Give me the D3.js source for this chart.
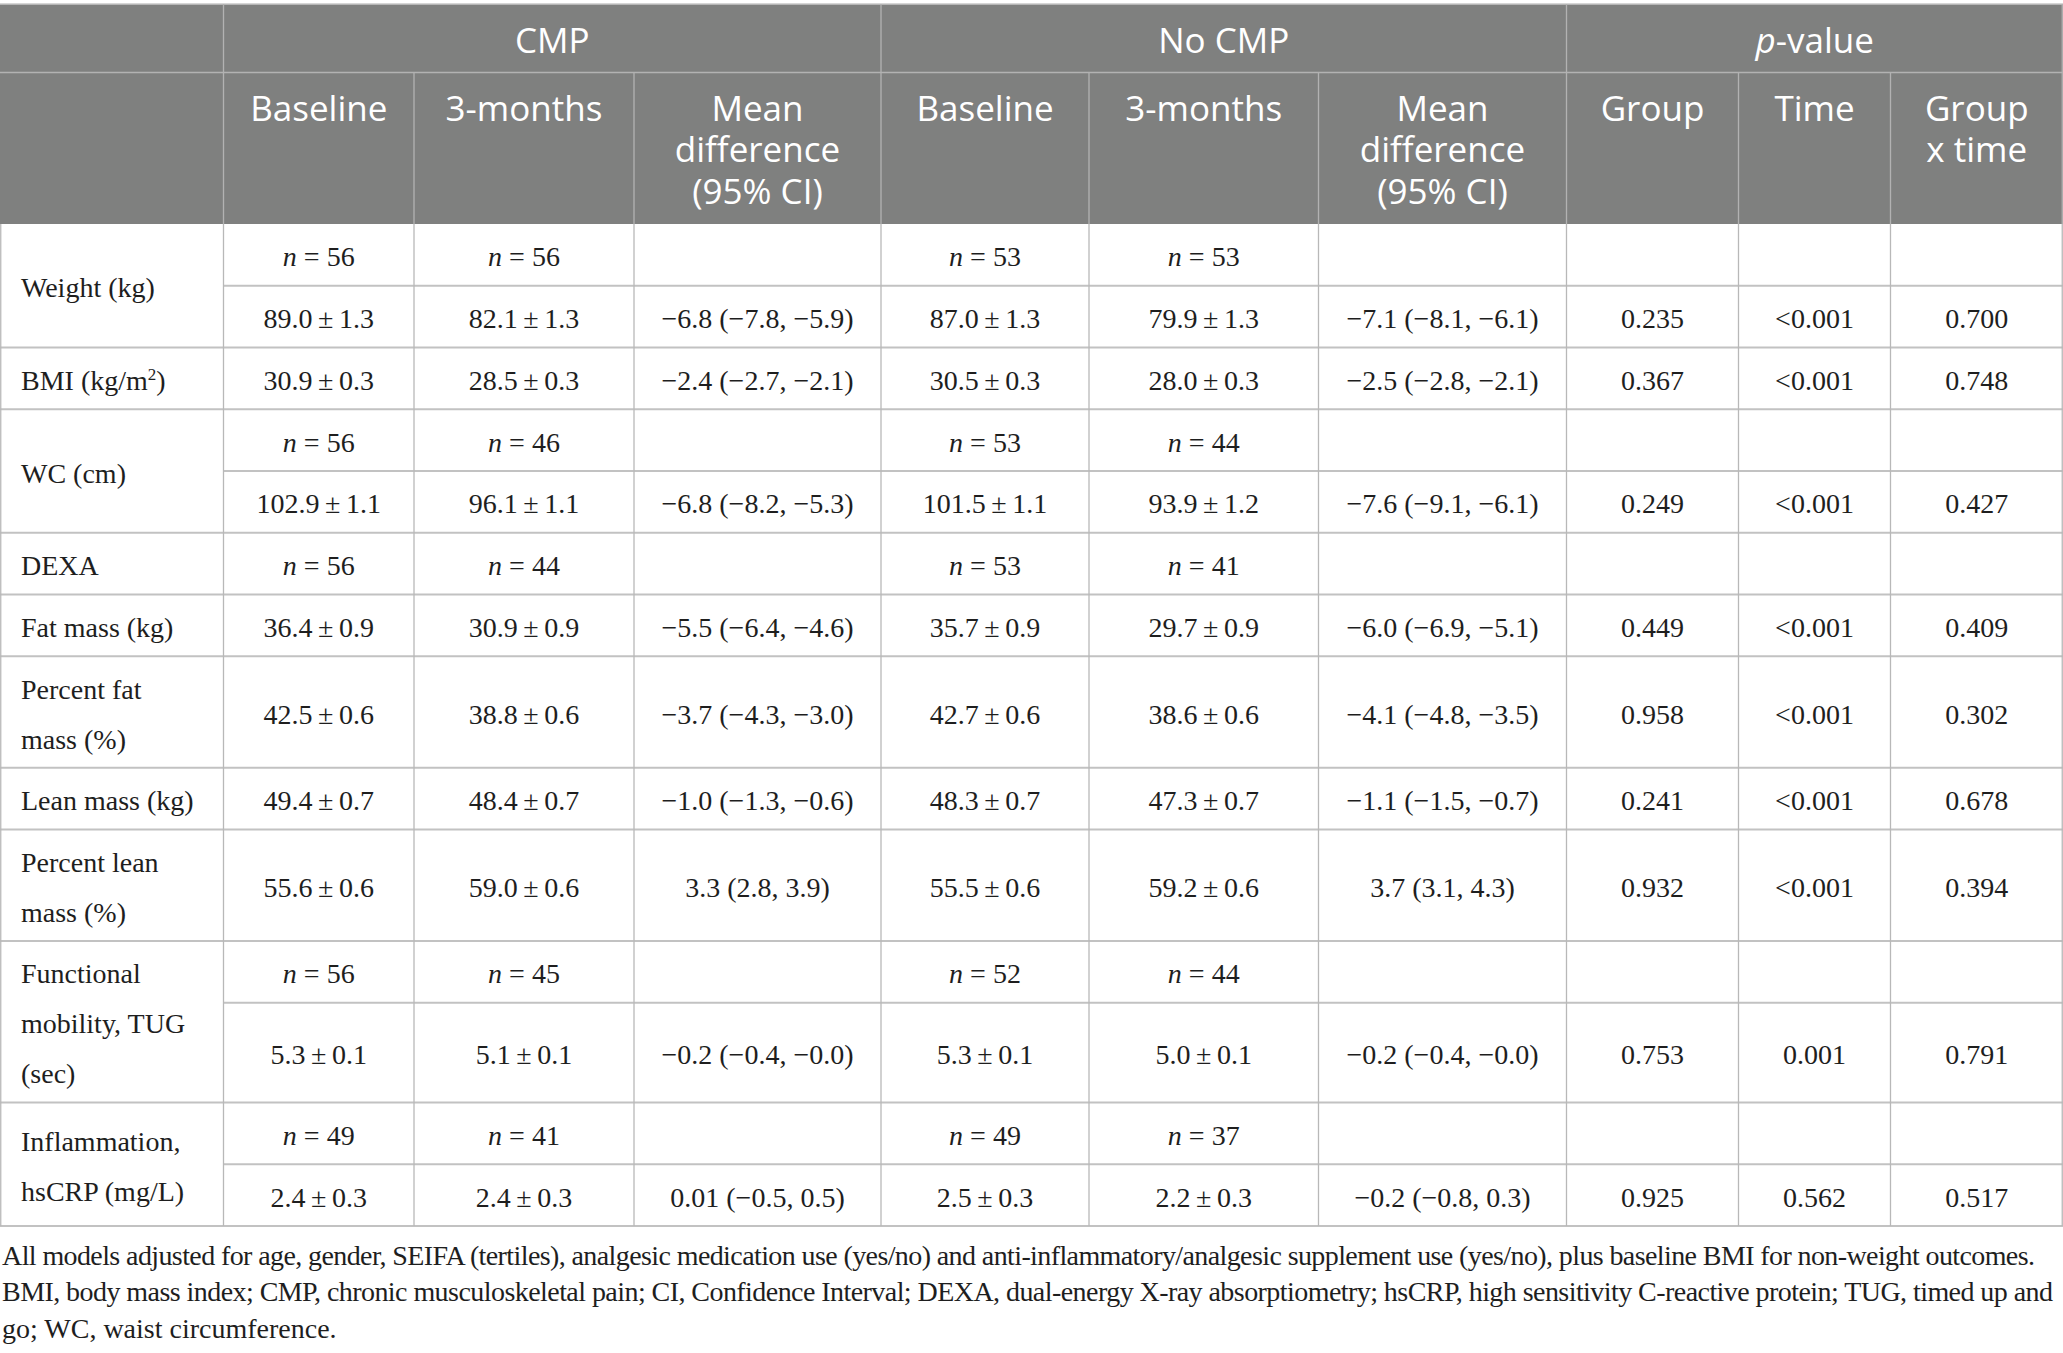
<!DOCTYPE html>
<html>
<head>
<meta charset="utf-8">
<script src="https://cdn.jsdelivr.net/npm/d3@7"></script>
<style>
  html, body { margin: 0; padding: 0; background: #fff; }
  svg { display: block; }
</style>
</head>
<body>
<svg id="tbl" width="2063" height="1353"></svg>
<script>
// ---- table data ----
var stubLabels = [
  ["Weight (kg)"],
  ["BMI (kg/m|2|)"],
  ["WC (cm)"],
  ["DEXA"],
  ["Fat mass (kg)"],
  ["Percent fat", "mass (%)"],
  ["Lean mass (kg)"],
  ["Percent lean", "mass (%)"],
  ["Functional", "mobility, TUG", "(sec)"],
  ["Inflammation,", "hsCRP (mg/L)"]
];

// sample sizes (null = no n row)
var nCmpBase = [56, null, 56, 56, null, null, null, null, 56, 49];
var nCmp3m   = [56, null, 46, 44, null, null, null, null, 45, 41];
var nNoBase  = [53, null, 53, 53, null, null, null, null, 52, 49];
var nNo3m    = [53, null, 44, 41, null, null, null, null, 44, 37];

// mean ± SE
var cmpBaseMean = [89.0, 30.9, 102.9, null, 36.4, 42.5, 49.4, 55.6, 5.3, 2.4];
var cmpBaseSE   = [1.3, 0.3, 1.1, null, 0.9, 0.6, 0.7, 0.6, 0.1, 0.3];
var cmp3mMean   = [82.1, 28.5, 96.1, null, 30.9, 38.8, 48.4, 59.0, 5.1, 2.4];
var cmp3mSE     = [1.3, 0.3, 1.1, null, 0.9, 0.6, 0.7, 0.6, 0.1, 0.3];
var noBaseMean  = [87.0, 30.5, 101.5, null, 35.7, 42.7, 48.3, 55.5, 5.3, 2.5];
var noBaseSE    = [1.3, 0.3, 1.1, null, 0.9, 0.6, 0.7, 0.6, 0.1, 0.3];
var no3mMean    = [79.9, 28.0, 93.9, null, 29.7, 38.6, 47.3, 59.2, 5.0, 2.2];
var no3mSE      = [1.3, 0.3, 1.2, null, 0.9, 0.6, 0.7, 0.6, 0.1, 0.3];

// mean difference (95% CI)
var cmpDiff = ["\u22126.8 (\u22127.8, \u22125.9)", "\u22122.4 (\u22122.7, \u22122.1)", "\u22126.8 (\u22128.2, \u22125.3)", null,
               "\u22125.5 (\u22126.4, \u22124.6)", "\u22123.7 (\u22124.3, \u22123.0)", "\u22121.0 (\u22121.3, \u22120.6)",
               "3.3 (2.8, 3.9)", "\u22120.2 (\u22120.4, \u22120.0)", "0.01 (\u22120.5, 0.5)"];
var noDiff  = ["\u22127.1 (\u22128.1, \u22126.1)", "\u22122.5 (\u22122.8, \u22122.1)", "\u22127.6 (\u22129.1, \u22126.1)", null,
               "\u22126.0 (\u22126.9, \u22125.1)", "\u22124.1 (\u22124.8, \u22123.5)", "\u22121.1 (\u22121.5, \u22120.7)",
               "3.7 (3.1, 4.3)", "\u22120.2 (\u22120.4, \u22120.0)", "\u22120.2 (\u22120.8, 0.3)"];

// p-values
var pGroup = ["0.235", "0.367", "0.249", null, "0.449", "0.958", "0.241", "0.932", "0.753", "0.925"];
var pTime  = ["<0.001", "<0.001", "<0.001", null, "<0.001", "<0.001", "<0.001", "<0.001", "0.001", "0.562"];
var pInter = ["0.700", "0.748", "0.427", null, "0.409", "0.302", "0.678", "0.394", "0.791", "0.517"];

var groupHeads = ["", "CMP", "No CMP", "|p|-value"];
var colHeads = [["Baseline"], ["3-months"], ["Mean", "difference", "(95% CI)"],
                ["Baseline"], ["3-months"], ["Mean", "difference", "(95% CI)"],
                ["Group"], ["Time"], ["Group", "x time"]];

var footnotes = [
  "All models adjusted for age, gender, SEIFA (tertiles), analgesic medication use (yes/no) and anti-inflammatory/analgesic supplement use (yes/no), plus baseline BMI for non-weight outcomes.",
  "BMI, body mass index; CMP, chronic musculoskeletal pain; CI, Confidence Interval; DEXA, dual-energy X-ray absorptiometry; hsCRP, high sensitivity C-reactive protein; TUG, timed up and",
  "go; WC, waist circumference."
];

// ---- layout ----
var W = 2063;
var colEdges = [0, 223.5, 414, 634, 881, 1089, 1318.5, 1566.5, 1738.5, 1890.5, 2063];
var groupSpans = [[0, 1], [1, 4], [4, 7], [7, 10]];
var headTop = 4, headMid = 72.5, headBottom = 224;
var subRowH = 61.75, stubLineH = 50, stubPad = 11.5;
var headFill = "#7f807f", headLine = "#b2b2b2", gridH = "#c2c2c2", gridV = "#b8b8b8";
var textCol = "#1e1e1e";
var serif = "'Liberation Serif', 'Times New Roman', serif";
var sans = "'Open Sans', 'Noto Sans', sans-serif";

var svg = d3.select("#tbl");
svg.append("rect").attr("width", W).attr("height", 1353).attr("fill", "#fff");

function pm(m, s) { return m.toFixed(1) + "\u2009\u00b1\u2009" + s.toFixed(1); }
function nTxt(v) { return v == null ? null : [{t: "n", it: true}, {t: " = " + v}]; }
function plain(t) { return t == null ? null : [{t: t}]; }
// "a|b|c" -> alternating normal / special parts
function splitParts(str, special) {
  return str.split("|").map(function(t, i) { var o = {t: t}; if (i % 2) o[special] = true; return o; });
}

// ---- build body rows ----
var cells = [], hLines = [], stubTexts = [];
var y = headBottom;
stubLabels.forEach(function(lab, i) {
  var hasN = nCmpBase[i] != null, hasV = cmpBaseMean[i] != null;
  var nSub = (hasN ? 1 : 0) + (hasV ? 1 : 0);
  var blockH = Math.max(nSub * subRowH, lab.length * stubLineH + stubPad);
  var subs = [];
  if (hasN && hasV) {
    subs.push({y0: y, y1: y + subRowH, kind: "n"});
    subs.push({y0: y + subRowH, y1: y + blockH, kind: "v"});
  } else {
    subs.push({y0: y, y1: y + blockH, kind: hasN ? "n" : "v"});
  }
  subs.forEach(function(s, k) {
    var row;
    if (s.kind === "n") {
      row = [nTxt(nCmpBase[i]), nTxt(nCmp3m[i]), null, nTxt(nNoBase[i]), nTxt(nNo3m[i]), null, null, null, null];
    } else {
      row = [plain(pm(cmpBaseMean[i], cmpBaseSE[i])), plain(pm(cmp3mMean[i], cmp3mSE[i])), plain(cmpDiff[i]),
             plain(pm(noBaseMean[i], noBaseSE[i])), plain(pm(no3mMean[i], no3mSE[i])), plain(noDiff[i]),
             plain(pGroup[i]), plain(pTime[i]), plain(pInter[i])];
    }
    row.forEach(function(parts, j) {
      if (!parts) return;
      cells.push({x: (colEdges[j + 1] + colEdges[j + 2]) / 2, y: (s.y0 + s.y1) / 2, parts: parts});
    });
    if (k > 0) hLines.push({x0: colEdges[1], x1: W, y: s.y0});
  });
  var cy = y + blockH / 2;
  lab.forEach(function(line, k) {
    stubTexts.push({x: 21, y: cy + (k - (lab.length - 1) / 2) * stubLineH, parts: splitParts(line, "sup")});
  });
  y += blockH;
  hLines.push({x0: 0, x1: W, y: y});
});
var bodyBottom = y;

// ---- header ----
var head = svg.append("g");
head.append("rect").attr("x", 0).attr("y", headTop).attr("width", W).attr("height", headBottom - headTop).attr("fill", headFill);
head.append("line").attr("x1", 0).attr("x2", W).attr("y1", headTop).attr("y2", headTop)
  .attr("stroke", "#c8c8c8").attr("stroke-width", 1.5);
head.append("line").attr("x1", 0).attr("x2", W).attr("y1", headMid).attr("y2", headMid)
  .attr("stroke", headLine).attr("stroke-width", 1.5);

var headV = [];
colEdges.forEach(function(x, j) {
  if (j === 0 || j === colEdges.length - 1) return;
  var full = groupSpans.some(function(g) { return g[0] === j; });
  headV.push({x: x, y0: full ? headTop : headMid, y1: headBottom});
});
headV.push({x: W - 0.75, y0: headTop, y1: headBottom});
head.selectAll("line.hv").data(headV).join("line").attr("class", "hv")
  .attr("x1", function(d) { return d.x; }).attr("x2", function(d) { return d.x; })
  .attr("y1", function(d) { return d.y0; }).attr("y2", function(d) { return d.y1; })
  .attr("stroke", headLine).attr("stroke-width", 1.3);

function writeParts(sel) {
  sel.each(function(d) {
    var t = d3.select(this);
    d.parts.forEach(function(p, k) {
      var ts = t.append("tspan").text(p.t);
      if (p.it) ts.style("font-style", "italic");
      if (p.sup) ts.attr("dy", -10).style("font-size", "17px");
      else if (k > 0 && d.parts[k - 1].sup) ts.attr("dy", 10);
    });
  });
}

var gh = groupSpans.map(function(g, i) {
  return {x: (colEdges[g[0]] + colEdges[g[1]]) / 2, y: 52.5, parts: splitParts(groupHeads[i], "it")};
}).filter(function(d) { return d.parts[0].t || d.parts.length > 1; });
head.selectAll("text.gh").data(gh).join("text").attr("class", "gh")
  .attr("x", function(d) { return d.x; }).attr("y", function(d) { return d.y; })
  .attr("text-anchor", "middle").attr("fill", "#fff")
  .style("font-family", sans).style("font-size", "35px")
  .call(writeParts);

var ch = [];
colHeads.forEach(function(lines, j) {
  lines.forEach(function(line, k) {
    ch.push({x: (colEdges[j + 1] + colEdges[j + 2]) / 2, y: 120.7 + k * 41.7, t: line});
  });
});
head.selectAll("text.ch").data(ch).join("text").attr("class", "ch")
  .attr("x", function(d) { return d.x; }).attr("y", function(d) { return d.y; })
  .attr("text-anchor", "middle").attr("fill", "#fff")
  .style("font-family", sans).style("font-size", "35px")
  .text(function(d) { return d.t; });

// ---- body grid ----
var grid = svg.append("g");
grid.selectAll("line.h").data(hLines).join("line").attr("class", "h")
  .attr("x1", function(d) { return d.x0; }).attr("x2", function(d) { return d.x1; })
  .attr("y1", function(d) { return d.y; }).attr("y2", function(d) { return d.y; })
  .attr("stroke", gridH).attr("stroke-width", 2.2);
var bodyV = colEdges.slice(1, -1).concat([0.75, W - 0.75]);
grid.selectAll("line.v").data(bodyV).join("line").attr("class", "v")
  .attr("x1", function(d) { return d; }).attr("x2", function(d) { return d; })
  .attr("y1", headBottom).attr("y2", bodyBottom)
  .attr("stroke", gridV).attr("stroke-width", 1.3);

// ---- body text ----
var body = svg.append("g").style("font-family", serif).style("font-size", "28px").attr("fill", textCol);
body.selectAll("text.cell").data(cells).join("text").attr("class", "cell")
  .attr("x", function(d) { return d.x; }).attr("y", function(d) { return d.y + 11.5; })
  .attr("text-anchor", "middle")
  .call(writeParts);
body.selectAll("text.stub").data(stubTexts).join("text").attr("class", "stub")
  .attr("x", function(d) { return d.x; }).attr("y", function(d) { return d.y + 11.5; })
  .call(writeParts);

// ---- footnotes ----
var fnWidths = [2033, 2051, null];
var fn = svg.append("g").style("font-family", serif).style("font-size", "28px").attr("fill", textCol);
fn.selectAll("text").data(footnotes).join("text")
  .attr("x", 2).attr("y", function(d, i) { return 1265 + i * 36.3; })
  .text(function(d) { return d; })
  .each(function(d, i) {
    if (fnWidths[i]) {
      var len = this.getComputedTextLength();
      if (Math.abs(len - fnWidths[i]) > 2) {
        d3.select(this).attr("textLength", fnWidths[i]).attr("lengthAdjust", "spacing");
      }
    }
  });
</script>
</body>
</html>
